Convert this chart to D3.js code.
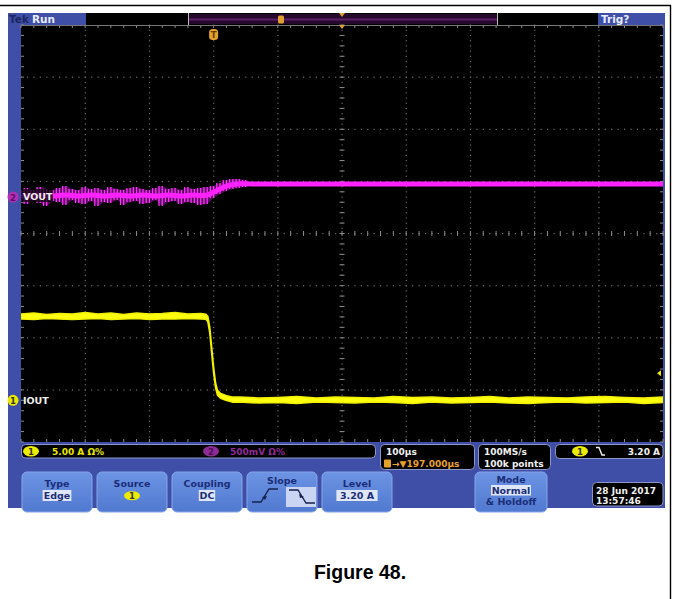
<!DOCTYPE html>
<html><head><meta charset="utf-8">
<script src="https://cdn.jsdelivr.net/npm/d3@7/dist/d3.min.js"></script>
<style>body{margin:0;background:#fff}svg{display:block}</style>
</head><body>
<svg id="c" width="673" height="599"></svg>
<script>
// ---------------- data ----------------
const timeDomain = [0, 1000];            // µs across 10 divisions (100 µs/div)
const divDomain = [-4, 4];               // vertical divisions
const majorTimes = [0,100,200,300,400,500,600,700,800,900,1000];
const majorDivs = [-4,-3,-2,-1,0,1,2,3,4];
const ch1Offset = -3.2, ch1PerDiv = 5;    // IOUT, A/div
const ch2Offset = 0.7,  ch2PerDiv = 500;  // VOUT, mV/div
const trigTime = 300;                     // µs
const trigLevelMarkA = 2.6;               // A (marker on right edge)

// IOUT envelope (A)
const iTimes = [0,20,40,60,80,100,120,140,160,180,200,220,240,260,280,
  288,291,294,297,300,303,306,311,319,330,
  340,370,400,430,460,490,520,550,580,610,640,670,700,730,760,790,820,850,880,910,940,970,1000];
const iHi = [8.28,8.37,8.23,8.32,8.28,8.42,8.28,8.37,8.23,8.37,8.28,8.32,8.42,8.28,8.32,
  8.25,8.05,7.00,5.10,3.15,1.70,0.95,0.65,0.45,0.30,
  0.32,0.22,0.27,0.36,0.22,0.32,0.27,0.22,0.36,0.27,0.32,0.22,0.27,0.36,0.22,0.32,0.27,0.22,0.32,0.36,0.27,0.22,0.32];
const iLo = [7.80,7.75,7.84,7.80,7.75,7.80,7.84,7.75,7.80,7.84,7.75,7.80,7.80,7.84,7.80,
  7.78,7.55,6.50,4.55,2.65,1.25,0.50,0.20,0.00,-0.18,
  -0.16,-0.26,-0.21,-0.31,-0.16,-0.21,-0.26,-0.16,-0.21,-0.31,-0.16,-0.26,-0.21,-0.16,-0.26,-0.31,-0.21,-0.16,-0.26,-0.21,-0.16,-0.31,-0.21];

// VOUT envelope (mV)
const vTimes = [0,10,20,30,40,50,60,70,80,90,100,110,120,130,140,150,160,170,180,190,200,210,220,230,240,250,260,270,280,290,
  300,310,320,330,340,350,
  360,400,440,480,520,560,600,640,680,720,760,800,840,880,920,960,1000];
const vHi = [67,86,67,96,77,67,86,105,77,67,96,77,86,67,96,77,67,86,96,77,67,86,105,77,86,67,96,77,86,96,
  105,134,163,173,173,163,
  139,144,139,134,144,139,139,144,134,139,144,139,134,139,144,139,139];
const vLo = [-38,-67,-29,-58,-86,-38,-48,-77,-29,-58,-67,-38,-86,-48,-58,-29,-77,-48,-38,-67,-58,-29,-86,-48,-38,-67,-48,-58,-77,-67,
  -10,29,58,77,86,96,
  110,105,110,110,105,115,110,105,110,110,105,110,115,110,105,110,110];
const vMid = [14,10,14,19,14,10,14,19,14,10,14,19,14,10,14,19,14,10,14,19,14,10,14,19,14,10,14,19,14,19,
  48,77,105,120,127,127,
  125,126,125,124,126,125,125,126,124,125,126,125,124,125,126,125,125];

// text content
const statusCh1 = ["1", "5.00 A Ω%"];
const statusCh2 = ["2", "500mV Ω%"];
const horiz = ["100µs", "→▼197.000µs"];
const acq = ["100MS/s", "100k points"];
const trigInfo = ["1", "3.20 A"];
const buttons = [
  {label:"Type", value:"Edge"},
  {label:"Source", value:"1"},
  {label:"Coupling", value:"DC"},
  {label:"Slope", value:""},
  {label:"Level", value:"3.20 A"}
];
const modeBtn = ["Mode", "Normal", "& Holdoff"];
const dateText = ["28 Jun 2017", "13:57:46"];
const caption = "Figure 48.";

// ---------------- drawing ----------------
const svg = d3.select("#c");
const G = {x0:21, x1:663, y0:25, y1:442};
const x = d3.scaleLinear().domain(timeDomain).range([G.x0, G.x1]);
const yDiv = d3.scaleLinear().domain(divDomain).range([G.y1, G.y0]);
const yI = d3.scaleLinear().domain([(divDomain[0]-ch1Offset)*ch1PerDiv, (divDomain[1]-ch1Offset)*ch1PerDiv]).range([G.y1, G.y0]);
const yV = d3.scaleLinear().domain([(divDomain[0]-ch2Offset)*ch2PerDiv, (divDomain[1]-ch2Offset)*ch2PerDiv]).range([G.y1, G.y0]);

const FONT = "'DejaVu Sans', sans-serif";
const BLUE = "#3f4ea6", NAVY = "#1b2d78";

// page frame
svg.append("line").attr("x1",0).attr("x2",671).attr("y1",5.5).attr("y2",5.5).attr("stroke","#000").attr("stroke-width",1.4);
svg.append("line").attr("x1",670.5).attr("x2",670.5).attr("y1",5).attr("y2",599).attr("stroke","#000").attr("stroke-width",1.4);

// scope body
svg.append("rect").attr("x",8).attr("y",13).attr("width",657).attr("height",495).attr("fill",BLUE);
svg.append("rect").attr("x",G.x0).attr("y",G.y0).attr("width",G.x1-G.x0).attr("height",G.y1-G.y0).attr("fill","#000");

// top bar
svg.append("rect").attr("x",86).attr("y",13).attr("width",512).attr("height",12).attr("fill","#000");
svg.append("rect").attr("x",188).attr("y",14).attr("width",309).attr("height",10).attr("fill","#26082c");
svg.append("line").attr("x1",188).attr("x2",497).attr("y1",19.5).attr("y2",19.5).attr("stroke","#5a1f66").attr("stroke-width",2);
[188,497].forEach(v=>svg.append("line").attr("x1",v+0.5).attr("x2",v+0.5).attr("y1",13).attr("y2",25).attr("stroke","#bbb").attr("stroke-width",1));
svg.append("text").attr("x",9).attr("y",22.5).attr("font-family",FONT).attr("font-weight","bold").attr("font-size",10.5).attr("fill","#1c2660").text("Tek");
svg.append("text").attr("x",32).attr("y",22.5).attr("font-family",FONT).attr("font-weight","bold").attr("font-size",10.5).attr("fill","#e8ecff").text("Run");
svg.append("text").attr("x",601).attr("y",22.5).attr("font-family",FONT).attr("font-weight","bold").attr("font-size",10.5).attr("fill","#e8ecff").text("Trig?");
svg.append("rect").attr("x",278).attr("y",15.5).attr("width",6).attr("height",8).attr("rx",1.5).attr("fill","#e0a030");
svg.append("path").attr("d",`M${x(500)-3},13 L${x(500)+3},13 L${x(500)},17 Z`).attr("fill","#e0a030");

// graticule dots
const gr = svg.append("g").attr("fill","#6e6e6e");
const fineT = d3.range(0, 1000.01, 10);
const fineD = d3.range(-4, 4.001, 0.1);
majorTimes.slice(1,-1).forEach(t=>{
  gr.selectAll(null).data(fineD).enter().append("rect")
    .attr("x",x(t)-0.5).attr("y",d=>yDiv(d)-0.5).attr("width",1.2).attr("height",1.2);
});
majorDivs.slice(1,-1).forEach(dv=>{
  gr.selectAll(null).data(fineT).enter().append("rect")
    .attr("x",t=>x(t)-0.5).attr("y",yDiv(dv)-0.5).attr("width",1.2).attr("height",1.2);
});
// centre-line minor ticks
const minorT = d3.range(0, 1000.01, 20);
const minorD = d3.range(-4, 4.001, 0.2);
const tk = svg.append("g").attr("stroke","#8a8a8a").attr("stroke-width",1);
tk.selectAll(null).data(minorT).enter().append("line")
  .attr("x1",t=>x(t)).attr("x2",t=>x(t)).attr("y1",yDiv(0)-2.5).attr("y2",yDiv(0)+2.5);
tk.selectAll(null).data(minorD).enter().append("line")
  .attr("y1",d=>yDiv(d)).attr("y2",d=>yDiv(d)).attr("x1",x(500)-2.5).attr("x2",x(500)+2.5);
// edge ticks
tk.selectAll(null).data(minorT).enter().append("line")
  .attr("x1",t=>x(t)).attr("x2",t=>x(t)).attr("y1",G.y0).attr("y2",G.y0+3);
tk.selectAll(null).data(minorT).enter().append("line")
  .attr("x1",t=>x(t)).attr("x2",t=>x(t)).attr("y1",G.y1-3).attr("y2",G.y1);
tk.selectAll(null).data(minorD).enter().append("line")
  .attr("y1",d=>yDiv(d)).attr("y2",d=>yDiv(d)).attr("x1",G.x0).attr("x2",G.x0+3);
tk.selectAll(null).data(minorD).enter().append("line")
  .attr("y1",d=>yDiv(d)).attr("y2",d=>yDiv(d)).attr("x1",G.x1-3).attr("x2",G.x1);
svg.append("line").attr("x1",G.x0).attr("x2",G.x1).attr("y1",G.y0+0.5).attr("y2",G.y0+0.5).attr("stroke","#777").attr("stroke-width",1);

// traces
svg.append("clipPath").attr("id","gclip").append("rect")
  .attr("x",G.x0).attr("y",G.y0).attr("width",G.x1-G.x0).attr("height",G.y1-G.y0);
const tr = svg.append("g").attr("clip-path","url(#gclip)");

// VOUT
const vIdx = d3.range(vTimes.length);
tr.append("path").datum(vIdx)
  .attr("d", d3.area().x(i=>x(vTimes[i])).y0(i=>yV(vLo[i])).y1(i=>yV(vHi[i])))
  .attr("fill","#a010a8").attr("opacity",0.55);
// ripple spikes at each sample and between samples
const spikes = [];
vIdx.forEach(i=>{
  if (vTimes[i] <= 350) {
    spikes.push({t:vTimes[i], lo:vLo[i], hi:vHi[i]});
    if (i < vTimes.length-1) spikes.push({t:(vTimes[i]+vTimes[i+1])/2, lo:vLo[i+1], hi:vHi[i+1]});
  }
});
tr.selectAll(null).data(spikes).enter().append("line")
  .attr("x1",d=>x(d.t)).attr("x2",d=>x(d.t)).attr("y1",d=>yV(d.lo)).attr("y2",d=>yV(d.hi))
  .attr("stroke","#ff30ff").attr("stroke-width",1.3);
tr.append("path").datum(vIdx)
  .attr("d", d3.line().x(i=>x(vTimes[i])).y(i=>yV(vMid[i])).curve(d3.curveMonotoneX))
  .attr("fill","none").attr("stroke","#ff22ff").attr("stroke-width",5);

// IOUT
const iIdx = d3.range(iTimes.length);
tr.append("path").datum(iIdx)
  .attr("d", d3.area().x(i=>x(iTimes[i])).y0(i=>yI(iLo[i])).y1(i=>yI(iHi[i])))
  .attr("fill","#ffff10").attr("stroke","#f2f200").attr("stroke-width",1.6);

// trace labels
svg.append("rect").attr("x",21).attr("y",yV(0)-8).attr("width",32).attr("height",13).attr("fill","#000").attr("opacity",0.72);
svg.append("text").attr("x",23).attr("y",yV(0)+3).attr("font-family",FONT).attr("font-weight","bold").attr("font-size",9.5).attr("fill","#f0f0f0").text("VOUT");
svg.append("text").attr("x",23).attr("y",yI(0)+4).attr("font-family",FONT).attr("font-weight","bold").attr("font-size",9.5).attr("fill","#f0f0f0").text("IOUT");

// channel ground markers
svg.append("ellipse").attr("cx",13).attr("cy",yV(0)).attr("rx",5.5).attr("ry",5.5).attr("fill","#b22eb8");
svg.append("text").attr("x",13).attr("y",yV(0)+3.5).attr("text-anchor","middle").attr("font-family",FONT).attr("font-weight","bold").attr("font-size",8.5).attr("fill","#5a1060").text("2");
svg.append("ellipse").attr("cx",13).attr("cy",yI(0)).attr("rx",5.5).attr("ry",5.5).attr("fill","#e8e800");
svg.append("text").attr("x",13).attr("y",yI(0)+3.5).attr("text-anchor","middle").attr("font-family",FONT).attr("font-weight","bold").attr("font-size",8.5).attr("fill","#333").text("1");

// trigger position marker
svg.append("rect").attr("x",x(trigTime)-4.5).attr("y",29).attr("width",9).attr("height",11).attr("rx",3.5).attr("fill","#e4a22c");
svg.append("text").attr("x",x(trigTime)).attr("y",38).attr("text-anchor","middle").attr("font-family",FONT).attr("font-weight","bold").attr("font-size",8.5).attr("fill","#6a3a00").text("T");
svg.append("path").attr("d",`M${x(500)-3},25 L${x(500)+3},25 L${x(500)},29 Z`).attr("fill","#e0a030");
// trigger level marker
const tl = yI(trigLevelMarkA);
svg.append("path").attr("d",`M${G.x1-6},${tl} L${G.x1-2},${tl-3} L${G.x1-2},${tl+3} Z`).attr("fill","#e8e800");

// status boxes
function box(x0,y0,w,h){ return svg.append("rect").attr("x",x0).attr("y",y0).attr("width",w).attr("height",h).attr("rx",4).attr("fill","#000").attr("stroke","#8d96c8").attr("stroke-width",1); }
function txt(x0,y0,s,col,anchor,size){ return svg.append("text").attr("x",x0).attr("y",y0).attr("font-family",FONT).attr("font-weight","bold").attr("font-size",size||9).attr("fill",col).attr("text-anchor",anchor||"start").text(s); }
box(21.5,444.5,354,13.5);
svg.append("ellipse").attr("cx",31).attr("cy",451.3).attr("rx",8).attr("ry",5.3).attr("fill","#ecec00");
txt(31,454.6,statusCh1[0],"#333","middle",8.5);
txt(52,455,statusCh1[1],"#e6e600");
svg.append("ellipse").attr("cx",211).attr("cy",451.3).attr("rx",8).attr("ry",5.3).attr("fill","#8e2c96");
txt(211,454.6,statusCh2[0],"#4a1050","middle",8.5);
txt(230,455,statusCh2[1],"#8e2c96");

box(380.5,444.5,94,25);
txt(386,455,horiz[0],"#f0f0f0");
svg.append("rect").attr("x",384).attr("y",459.5).attr("width",7).attr("height",8).attr("rx",1).attr("fill","#e4a22c");
txt(392,467,horiz[1],"#e8a030");

box(478.5,444.5,72,25);
txt(484,455,acq[0],"#f0f0f0");
txt(484,467,acq[1],"#f0f0f0");

box(555.5,444.5,107.5,14);
svg.append("ellipse").attr("cx",580).attr("cy",451.3).attr("rx",8).attr("ry",5.3).attr("fill","#ecec00");
txt(580,454.6,trigInfo[0],"#333","middle",8.5);
svg.append("path").attr("d","M596,447.5 L599,447.5 L602,455 L605,455").attr("fill","none").attr("stroke","#f0f0f0").attr("stroke-width",1.4);
txt(660,455.3,trigInfo[1],"#f0f0f0","end");

// buttons
const btnX = [22,97,172,247,322];
const grad = svg.append("defs").append("linearGradient").attr("id","bg").attr("x1",0).attr("x2",0).attr("y1",0).attr("y2",1);
grad.append("stop").attr("offset",0).attr("stop-color","#6d94e4");
grad.append("stop").attr("offset",1).attr("stop-color","#5079d0");
buttons.forEach((b,i)=>{
  const bx = btnX[i], cx = bx+35;
  svg.append("rect").attr("x",bx).attr("y",472).attr("width",70).attr("height",40).attr("rx",5).attr("fill","url(#bg)").attr("stroke","#86a6ea").attr("stroke-width",1);
  if (b.label === "Slope") {
    txt(cx,483.5,b.label,NAVY,"middle",9.5);
    svg.append("path").attr("d",`M${bx+5},502 L${bx+14},502 L${bx+22},489 L${bx+31},489`).attr("fill","none").attr("stroke","#14204f").attr("stroke-width",1.3);
    svg.append("path").attr("d",`M${bx+15},497 L${bx+20},496 L${bx+18},500 Z`).attr("fill","#14204f");
    svg.append("rect").attr("x",bx+39).attr("y",487).attr("width",30).attr("height",20).attr("fill","#c9d5f2");
    svg.append("path").attr("d",`M${bx+42},490 L${bx+51},490 L${bx+59},503 L${bx+68},503`).attr("fill","none").attr("stroke","#14204f").attr("stroke-width",1.3);
    svg.append("path").attr("d",`M${bx+52},494 L${bx+57},497 L${bx+53},498 Z`).attr("fill","#14204f");
  } else {
    txt(cx,486.5,b.label,NAVY,"middle",9.5);
    if (b.label === "Source") {
      svg.append("ellipse").attr("cx",cx).attr("cy",495.8).attr("rx",8).attr("ry",4.5).attr("fill","#ecec00");
      txt(cx,499,b.value,"#333","middle",8.5);
    } else {
      const w = b.value.length*6.2+4;
      svg.append("rect").attr("x",cx-w/2).attr("y",490).attr("width",w).attr("height",11).attr("fill","#dfe6f7");
      txt(cx,499,b.value,NAVY,"middle",9.5);
    }
  }
});
// mode button
svg.append("rect").attr("x",475).attr("y",472).attr("width",72).attr("height",40).attr("rx",5).attr("fill","url(#bg)").attr("stroke","#86a6ea").attr("stroke-width",1);
txt(511,482.5,modeBtn[0],NAVY,"middle",9.5);
svg.append("rect").attr("x",491).attr("y",485).attr("width",40).attr("height",10.5).attr("fill","#dfe6f7");
txt(511,493.5,modeBtn[1],NAVY,"middle",9.5);
txt(511,504.5,modeBtn[2],NAVY,"middle",9.5);
// date
box(592.5,482.5,70.5,23.5);
txt(596,494,dateText[0],"#f0f0f0");
txt(596,504,dateText[1],"#f0f0f0");

// caption
svg.append("text").attr("x",360).attr("y",579).attr("text-anchor","middle")
  .attr("font-family","'Liberation Sans', Arial, sans-serif").attr("font-weight","bold").attr("font-size",19.5).attr("fill","#000").text(caption);
</script>
</body></html>
